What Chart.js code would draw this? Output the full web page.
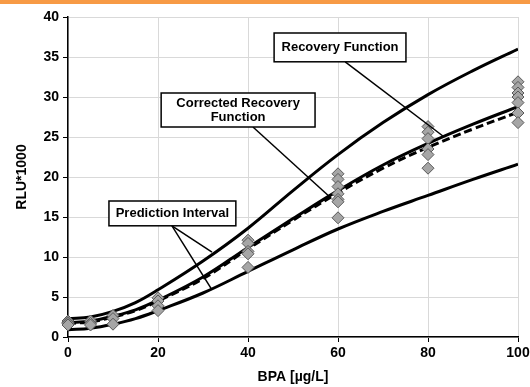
<!DOCTYPE html>
<html>
<head>
<meta charset="utf-8">
<script src="https://cdn.jsdelivr.net/npm/chart.js@4"></script>
<style>
  body { margin: 0; background: #fff; }
  #faixa { position: absolute; left: 0; top: 0; width: 530px; height: 4px; background: #f79a45; }
  #caixa { position: relative; width: 530px; height: 387px; }
</style>
</head>
<body>
<div id="caixa">
  <canvas id="grafico"></canvas>
  <div id="faixa"></div>
</div>
<script>
// curvas
var curvaX      = [0, 5, 10, 15, 20, 30, 40, 50, 60, 70, 80, 90, 100];
var superiorY   = [2.3, 2.5, 3.2, 4.3, 5.9, 9.5, 13.6, 18.3, 22.8, 26.8, 30.3, 33.3, 36.0];
var recuperacao = [1.8, 2.0, 2.6, 3.4, 4.6, 7.5, 11.2, 14.8, 18.3, 21.5, 24.2, 26.6, 28.8];
var corrigida   = [1.7, 1.9, 2.5, 3.3, 4.5, 7.3, 11.0, 14.6, 18.0, 21.1, 23.7, 26.0, 28.1];
var inferiorY   = [0.9, 1.1, 1.6, 2.3, 3.3, 5.5, 8.2, 10.9, 13.5, 15.7, 17.7, 19.7, 21.6];

// medições (losangos)
var pontosX = [0, 0, 0, 0, 5, 5, 5, 10, 10, 10, 20, 20, 20, 20,
               40, 40, 40, 40, 40, 60, 60, 60, 60, 60, 60, 60,
               80, 80, 80, 80, 80, 80, 100, 100, 100, 100, 100, 100, 100];
var pontosY = [2.0, 1.8, 1.7, 1.5, 2.0, 1.7, 1.5, 2.7, 2.3, 1.6, 4.9, 4.5, 3.9, 3.3,
               12.1, 11.7, 10.7, 10.4, 8.7, 20.4, 19.7, 18.8, 17.9, 17.2, 16.9, 14.9,
               26.3, 25.6, 24.8, 23.5, 22.8, 21.1, 31.9, 31.2, 30.5, 30.0, 29.3, 28.0, 26.8];

var ticksX = [0, 20, 40, 60, 80, 100];
var ticksY = [0, 5, 10, 15, 20, 25, 30, 35, 40];

function juntar(xs, ys) {
  return xs.map(function (x, i) { return { x: x, y: ys[i] }; });
}

function curva(ys, tracejado) {
  return {
    type: 'line',
    data: juntar(curvaX, ys),
    borderColor: '#000',
    borderWidth: 3,
    borderDash: tracejado ? [8, 4] : [],
    tension: 0.4,
    pointRadius: 0,
    fill: false,
    order: 2
  };
}

// caixas de texto e linhas indicadoras, em unidades dos dados
var rotulos = [
  { x1: 45.8, y1: 38.0, x2: 75.1, y2: 34.4, texto: ['Recovery Function'] },
  { x1: 20.7, y1: 30.5, x2: 54.9, y2: 26.25, texto: ['Corrected Recovery', 'Function'] },
  { x1: 9.1, y1: 17.0, x2: 37.3, y2: 13.9, texto: ['Prediction Interval'] }
];
var setas = [
  [61.6, 34.4, 83.6, 25.0],
  [41.1, 26.25, 58.2, 17.5],
  [23.1, 13.9, 32.0, 10.6],
  [23.1, 13.9, 32.0, 5.9]
];

const anotacoes = {
  id: 'anotacoes',
  afterDatasetsDraw(chart) {
    var ctx = chart.ctx;
    var sx = chart.scales.x, sy = chart.scales.y;
    ctx.save();
    ctx.strokeStyle = '#000';
    ctx.lineWidth = 1.5;
    setas.forEach(function (s) {
      ctx.beginPath();
      ctx.moveTo(sx.getPixelForValue(s[0]), sy.getPixelForValue(s[1]));
      ctx.lineTo(sx.getPixelForValue(s[2]), sy.getPixelForValue(s[3]));
      ctx.stroke();
    });
    ctx.font = 'bold 13px "Liberation Sans", Arial, sans-serif';
    ctx.textAlign = 'center';
    ctx.textBaseline = 'middle';
    rotulos.forEach(function (r) {
      var l = sx.getPixelForValue(r.x1), t = sy.getPixelForValue(r.y1);
      var w = sx.getPixelForValue(r.x2) - l, h = sy.getPixelForValue(r.y2) - t;
      ctx.fillStyle = '#fff';
      ctx.fillRect(l, t, w, h);
      ctx.strokeRect(l, t, w, h);
      ctx.fillStyle = '#000';
      var n = r.texto.length;
      r.texto.forEach(function (linha, i) {
        ctx.fillText(linha, l + w / 2, t + h / 2 + (i - (n - 1) / 2) * 14);
      });
    });
    ctx.restore();
  }
};

const fonte = { family: '"Liberation Sans", Arial, sans-serif', size: 14, weight: 'bold' };

new Chart(document.getElementById('grafico'), {
  type: 'scatter',
  data: {
    datasets: [
      {
        label: 'Dados',
        data: juntar(pontosX, pontosY),
        pointStyle: 'rectRot',
        pointRadius: 6,
        backgroundColor: '#a6a6a6',
        borderColor: '#595959',
        borderWidth: 1,
        clip: false,
        order: 1
      },
      curva(superiorY, false),
      curva(recuperacao, false),
      curva(corrigida, true),
      curva(inferiorY, false)
    ]
  },
  options: {
    responsive: true,
    maintainAspectRatio: false,
    animation: false,
    layout: { padding: { top: 17, right: 12, left: 0, bottom: 0 } },
    plugins: { legend: { display: false }, tooltip: { enabled: false } },
    scales: {
      x: {
        type: 'linear',
        min: 0, max: 100,
        afterBuildTicks: function (s) { s.ticks = ticksX.map(function (v) { return { value: v }; }); },
        afterFit: function (s) { s.height = 50; s.paddingRight = 0; s.paddingLeft = 0; },
        grid: { color: '#d9d9d9', tickColor: '#000', tickLength: 5 },
        border: { color: '#000', width: 1.5 },
        ticks: { color: '#000', font: fonte, padding: 3, maxRotation: 0 },
        title: { display: true, text: 'BPA [µg/L]', color: '#000', font: fonte, padding: { top: 0, bottom: 1 } }
      },
      y: {
        min: 0, max: 40,
        afterBuildTicks: function (s) { s.ticks = ticksY.map(function (v) { return { value: v }; }); },
        afterFit: function (s) { s.width = 68; },
        grid: { color: '#d9d9d9', tickColor: '#000', tickLength: 5 },
        border: { color: '#000', width: 1.5 },
        ticks: { color: '#000', font: fonte, padding: 4 },
        title: { display: true, text: 'RLU*1000', color: '#000', font: fonte, padding: { top: 14, bottom: 0 } }
      }
    }
  },
  plugins: [anotacoes]
});
</script>
</body>
</html>
